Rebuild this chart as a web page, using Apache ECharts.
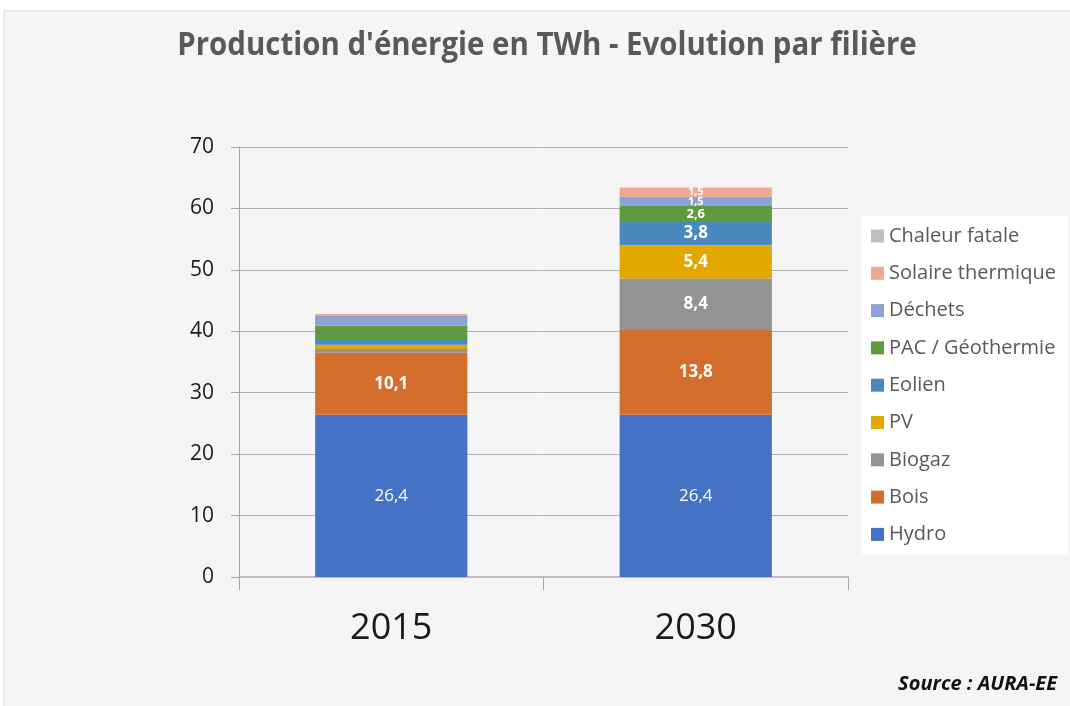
<!DOCTYPE html>
<html>
<head>
<meta charset="utf-8">
<script src="https://cdn.jsdelivr.net/npm/echarts@6/dist/echarts.min.js"></script>
<style>
  html, body { margin: 0; padding: 0; background: #fff; }
  #chart { width: 1070px; height: 706px; }
</style>
</head>
<body>
<div id="chart"></div>
<script>
// 数据
const years = ['2015', '2030']
const filieres = ['Hydro', 'Bois', 'Biogaz', 'PV', 'Eolien', 'PAC / Géothermie', 'Déchets', 'Solaire thermique', 'Chaleur fatale']
const hydro = [26.4, 26.4]
const bois = [10.1, 13.8]
const biogaz = [0.6, 8.4]
const pv = [0.7, 5.4]
const eolien = [0.8, 3.8]
const pac = [2.3, 2.6]
const dechets = [1.6, 1.5]
const solaire = [0.3, 1.5]
const chaleur = [0, 0]
const yTicks = [0, 10, 20, 30, 40, 50, 60, 70]

const values = [hydro, bois, biogaz, pv, eolien, pac, dechets, solaire, chaleur]
const colors = ['#4472C4', '#D46E2C', '#939393', '#E2A800', '#4A89BF', '#5E9A3E', '#8EA2D6', '#F2A88E', '#BFBFBF']

const font = 'Open Sans'

// taille des étiquettes selon la valeur
function labelSize(v) {
    if (v < 2) return 11
    if (v < 3) return 13
    return 17
}

let series = []
for (let i = 0; i < filieres.length; i++) {
    const data = values[i].map((v, j) => {
        // en 2015 seuls Hydro et Bois sont étiquetés
        const showLabel = v > 0 && (j === 1 || i < 2)
        return {
            value: v,
            label: {
                show: showLabel,
                fontSize: labelSize(v),
                lineHeight: labelSize(v) - 2
            }
        }
    })
    series.push({
        name: filieres[i],
        type: 'bar',
        stack: 'total',
        barWidth: '50%',
        itemStyle: { color: colors[i] },
        label: {
            position: 'inside',
            color: '#fff',
            fontFamily: font,
            fontWeight: i === 0 ? 'normal' : 'bold',
            formatter: p => String(p.value).replace('.', ',')
        },
        data: data
    })
}

const option = {
    animation: false,
    textStyle: { fontFamily: font },
    graphic: [
        {
            type: 'rect',
            z: -10,
            shape: { x: 4, y: 11, width: 1070, height: 700 },
            style: { fill: '#f5f5f5', stroke: '#d9d9d9', lineWidth: 1 }
        },
        {
            // titre en police condensée
            type: 'text',
            x: 547,
            y: 46,
            scaleX: 0.92,
            style: {
                text: "Production d'énergie en TWh - Evolution par filière",
                font: 'bold 32px "Open Sans"',
                fill: '#595959',
                textAlign: 'center',
                textVerticalAlign: 'middle'
            }
        },
        {
            type: 'text',
            right: 13,
            top: 674,
            style: {
                text: 'Source : AURA-EE',
                font: 'italic bold 20px "Open Sans"',
                fill: '#111'
            }
        }
    ],
    legend: {
        orient: 'vertical',
        left: 862,
        top: 216,
        data: filieres.slice().reverse(),
        itemWidth: 13,
        itemHeight: 13,
        itemGap: 13.3,
        backgroundColor: '#fff',
        padding: [8, 12, 8, 9],
        icon: 'rect',
        textStyle: {
            fontFamily: font,
            fontSize: 20,
            lineHeight: 24,
            color: '#595959'
        }
    },
    grid: {
        left: 239,
        right: 222,
        top: 147,
        bottom: 129
    },
    xAxis: {
        type: 'category',
        data: years,
        axisLine: { lineStyle: { color: '#bfbfbf', width: 2 } },
        axisTick: { show: true, length: 13, lineStyle: { color: '#a6a6a6' } },
        axisLabel: { fontSize: 36, color: '#1a1a1a', margin: 34, fontFamily: font }
    },
    yAxis: {
        type: 'value',
        min: yTicks[0],
        max: yTicks[yTicks.length - 1],
        interval: 10,
        axisLine: { show: true, lineStyle: { color: '#a6a6a6' } },
        axisTick: { show: true, length: 8, lineStyle: { color: '#a6a6a6' } },
        splitLine: { lineStyle: { color: '#b0b0b0' } },
        axisLabel: { fontSize: 21, color: '#1a1a1a', margin: 25, fontFamily: font }
    },
    series: series
}

const chart = echarts.init(document.getElementById('chart'))
chart.setOption(option)
</script>
</body>
</html>
